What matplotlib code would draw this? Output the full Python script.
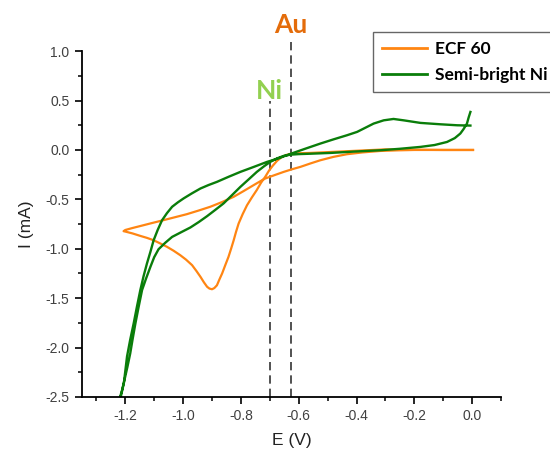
import numpy as np
import matplotlib
matplotlib.use("Agg")
import matplotlib.pyplot as plt
from matplotlib.ticker import MultipleLocator

# ---------------------------------------------------------------- data
# ECF 60: start at 0 V, sweep negative, back to 0 V
ecf_E = [0.003, -0.10, -0.20, -0.30, -0.40, -0.50, -0.56, -0.60, -0.629, -0.645,
         -0.66, -0.675, -0.69, -0.703, -0.716, -0.73, -0.745, -0.762, -0.779, -0.794,
         -0.808, -0.817, -0.825, -0.834, -0.843, -0.854, -0.865, -0.875, -0.883, -0.892,
         -0.90, -0.909, -0.917, -0.928, -0.94, -0.954, -0.969, -0.99, -1.010, -1.033,
         -1.056, -1.080, -1.102, -1.125, -1.148, -1.175, -1.200, -1.206, -1.200, -1.175,
         -1.148, -1.108, -1.067, -1.027, -0.987, -0.946, -0.906, -0.865, -0.825, -0.79,
         -0.756, -0.735, -0.716, -0.684, -0.652, -0.624, -0.594, -0.56, -0.525, -0.48,
         -0.433, -0.38, -0.318, -0.26, -0.20, -0.10, 0.003]
ecf_I = [0.0, 0.0, 0.002, 0.006, -0.008, -0.022, -0.03, -0.033, -0.04, -0.052,
         -0.075, -0.11, -0.16, -0.21, -0.272, -0.33, -0.405, -0.48, -0.56, -0.65,
         -0.745, -0.83, -0.914, -1.0, -1.082, -1.165, -1.25, -1.315, -1.37, -1.398,
         -1.41, -1.403, -1.385, -1.34, -1.284, -1.225, -1.166, -1.11, -1.065, -1.02,
         -0.98, -0.945, -0.914, -0.89, -0.87, -0.845, -0.826, -0.822, -0.81, -0.79,
         -0.77, -0.74, -0.71, -0.68, -0.65, -0.613, -0.575, -0.527, -0.474, -0.415,
         -0.356, -0.32, -0.289, -0.255, -0.222, -0.196, -0.171, -0.137, -0.104, -0.07,
         -0.043, -0.025, -0.01, -0.004, 0.0, 0.0, 0.0]

# Semi-bright Ni: start near 0 V, sweep negative, back to 0 V
ni_E = [-0.006, -0.012, -0.018, -0.03, -0.041, -0.06, -0.087, -0.13, -0.179, -0.25,
        -0.318, -0.40, -0.49, -0.56, -0.60, -0.629, -0.652, -0.675, -0.698, -0.72,
        -0.745, -0.773, -0.802, -0.83, -0.86, -0.888, -0.917, -0.946, -0.975, -1.005,
        -1.038, -1.062, -1.085, -1.10, -1.113, -1.128, -1.142, -1.154, -1.165, -1.175,
        -1.183, -1.193, -1.203, -1.212, -1.218, -1.215, -1.205, -1.194, -1.183, -1.171,
        -1.16, -1.148, -1.137, -1.125, -1.113, -1.102, -1.088, -1.073, -1.056, -1.038,
        -1.018, -0.998, -0.97, -0.94, -0.912, -0.883, -0.843, -0.802, -0.756, -0.71,
        -0.67, -0.629, -0.58, -0.525, -0.48, -0.433, -0.398, -0.364, -0.341, -0.306,
        -0.272, -0.237, -0.179, -0.11, -0.052, -0.006]
ni_I = [0.385, 0.33, 0.267, 0.21, 0.166, 0.12, 0.081, 0.05, 0.031, 0.012,
        -0.003, -0.015, -0.03, -0.038, -0.042, -0.048, -0.06, -0.085, -0.12, -0.165,
        -0.222, -0.297, -0.374, -0.455, -0.541, -0.605, -0.67, -0.73, -0.785, -0.83,
        -0.88, -0.94, -1.005, -1.085, -1.182, -1.30, -1.418, -1.59, -1.755, -1.92,
        -2.06, -2.2, -2.33, -2.44, -2.5, -2.49, -2.36, -2.09, -1.92, -1.755,
        -1.59, -1.418, -1.28, -1.148, -1.03, -0.914, -0.81, -0.712, -0.64, -0.575,
        -0.53, -0.49, -0.44, -0.39, -0.355, -0.323, -0.272, -0.222, -0.172, -0.121,
        -0.085, -0.04, 0.01, 0.065, 0.107, 0.149, 0.183, 0.233, 0.267, 0.30,
        0.314, 0.30, 0.274, 0.26, 0.25, 0.247]

labels = ["ECF 60", "Semi-bright Ni"]
marker_E = [-0.70, -0.627]
marker_top = [0.50, 1.09]
marker_text = ["Ni", "Au"]
marker_text_y = [0.52, 1.18]
marker_colors = ["#92D050", "#E46C0A"]

# ---------------------------------------------------------------- plot
fig = plt.figure(figsize=(5.5, 4.49), dpi=100)
ax = fig.add_axes([0.149, 0.116, 0.762, 0.770])

ax.plot(ecf_E, ecf_I, color="#FF8512", linewidth=1.6, label=labels[0])
ax.plot(ni_E, ni_I, color="#0A7D0A", linewidth=1.7, label=labels[1])

for e, top in zip(marker_E, marker_top):
    ax.plot([e, e], [-2.5, top], color="#333333", linewidth=1.2,
            linestyle=(0, (5, 3)), clip_on=False, zorder=1)

for e, y, t, c in zip(marker_E, marker_text_y, marker_text, marker_colors):
    ax.text(e, y, t, color=c, fontsize=19, fontweight="bold", family="Lato",
            ha="center", va="baseline")

ax.set_xlim(-1.35, 0.1)
ax.set_ylim(-2.5, 1.0)
ax.xaxis.set_minor_locator(MultipleLocator(0.1))
ax.yaxis.set_minor_locator(MultipleLocator(0.25))
ax.set_xticks(np.arange(-1.2, 0.01, 0.2))
ax.set_xticklabels(["-1.2", "-1.0", "-0.8", "-0.6", "-0.4", "-0.2", "0.0"])
ax.set_yticks(np.arange(-2.5, 1.01, 0.5))
ax.set_yticklabels(["-2.5", "-2.0", "-1.5", "-1.0", "-0.5", "0.0", "0.5", "1.0"])

for s in ["top", "right"]:
    ax.spines[s].set_visible(False)
for s in ["left", "bottom"]:
    ax.spines[s].set_linewidth(1.3)
ax.tick_params(which="major", direction="out", length=5, width=1.2,
               labelsize=10, labelcolor="#404040", pad=4)
ax.tick_params(which="minor", direction="out", length=3, width=1.1)
for lab in ax.get_xticklabels() + ax.get_yticklabels():
    lab.set_family("Liberation Sans")

ax.set_xlabel("E (V)", fontsize=12.5, color="#222222", labelpad=7, family="Liberation Sans")
ax.set_ylabel("I (mA)", fontsize=12.5, color="#222222", labelpad=8, family="Liberation Sans")

leg = ax.legend(loc="upper left", bbox_to_anchor=(373/550, 1 - 32/449),
                bbox_transform=fig.transFigure,
                prop={"family": "Lato", "weight": "bold", "size": 12.5},
                frameon=True, fancybox=False, handlelength=2.6, handletextpad=0.45,
                borderpad=0.5, labelspacing=0.6, borderaxespad=0)
leg.get_frame().set_edgecolor("#404040")
leg.get_frame().set_linewidth(1.0)
for h in leg.legend_handles:
    h.set_linewidth(2.0)

fig.savefig("out.png", dpi=100)
